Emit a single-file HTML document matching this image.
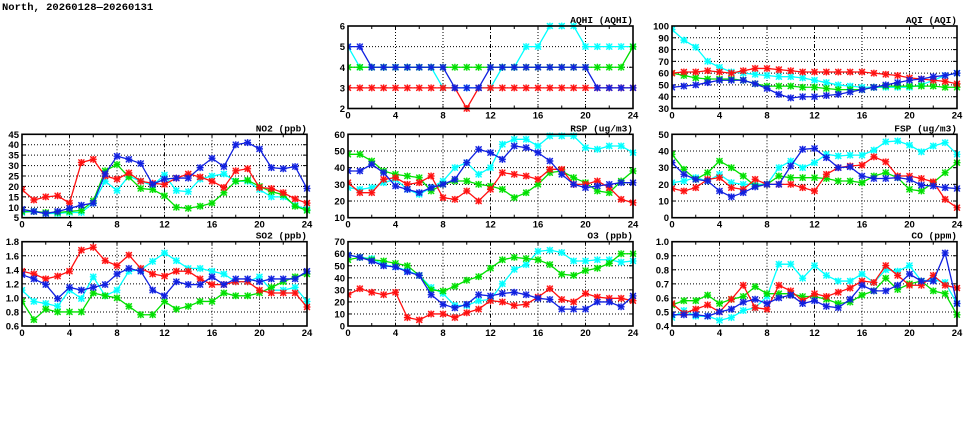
<!DOCTYPE html>
<html><head><meta charset="utf-8"><style>
html,body{margin:0;padding:0;background:#fff;}
svg{display:block;}
</style></head><body>
<svg id="s" width="975" height="447" xmlns="http://www.w3.org/2000/svg"></svg>
<script>
const S=document.getElementById('s');let h='';
h+='<text x="2" y="10" font-family="Liberation Mono,monospace" font-weight="bold" font-size="10.5">North, 20260128\u201420260131</text>';
const cols=[[22,307],[348,633],[672,957]];
const rows=[[26,108.5],[134.3,217.7],[241.7,326]];
const C={c:'#00ffff',g:'#00e000',r:'#ff1010',b:'#1020e0'};
function panel(col,row,title,ymin,ymax,step,dec,data){
 const [x0,x1]=cols[col],[y0,y1]=rows[row];
 const X=t=>x0+(x1-x0)*t/24, Y=v=>y1-(y1-y0)*(v-ymin)/(ymax-ymin);
 // grid
 for(let t=4;t<24;t+=4){const d=t==12?'4,2,1,2':'1,2';h+=`<line x1="${X(t)}" y1="${y0}" x2="${X(t)}" y2="${y1}" stroke="#000" stroke-width="1" stroke-dasharray="${d}"/>`;}
 const n=Math.round((ymax-ymin)/step);
 for(let i=0;i<=n;i++){const v=ymin+i*step,y=Y(v);
  if(i>0&&i<n)h+=`<line x1="${x0}" y1="${y}" x2="${x1}" y2="${y}" stroke="#000" stroke-width="1" stroke-dasharray="1,2"/>`;
  h+=`<line x1="${x0}" y1="${y}" x2="${x0+4}" y2="${y}" stroke="#000"/><line x1="${x1}" y1="${y}" x2="${x1-4}" y2="${y}" stroke="#000"/>`;
  h+=`<text x="${x0-3}" y="${y+3.5}" text-anchor="end" font-family="Liberation Sans,sans-serif" font-weight="bold" font-size="9.5">${v.toFixed(dec)}</text>`;}
 for(let t=0;t<=24;t+=2){h+=`<line x1="${X(t)}" y1="${y1}" x2="${X(t)}" y2="${y1-3}" stroke="#000"/><line x1="${X(t)}" y1="${y0}" x2="${X(t)}" y2="${y0+3}" stroke="#000"/>`;
  if(t%4==0)h+=`<text x="${X(t)}" y="${y1+10}" text-anchor="middle" font-family="Liberation Sans,sans-serif" font-weight="bold" font-size="9.5">${t}</text>`;}
 h+=`<text x="${x1}" y="${y0-3}" text-anchor="end" font-family="Liberation Mono,monospace" font-weight="bold" font-size="9.5">${title}</text>`;
 h+=`<svg x="${x0}" y="${y0-4}" width="${x1-x0+4}" height="${y1-y0+8}" overflow="hidden"><g transform="translate(${-x0},${-(y0-4)})">`;
 for(const k of ['c','g','r','b']){const a=data[k];if(!a)continue;const col=C[k];
  h+=`<polyline fill="none" stroke="${col}" stroke-width="1.3" points="${a.map((v,i)=>X(i)+','+Y(v)).join(' ')}"/>`;
  a.forEach((v,i)=>{const x=X(i),y=Y(v);h+=`<rect x="${x-3}" y="${y-3}" width="6" height="6" fill="${col}" fill-opacity="0.35"/><path d="M${x-3} ${y-3}L${x+3} ${y+3}M${x-3} ${y+3}L${x+3} ${y-3}M${x} ${y-3.5}V${y+3.5}M${x-3.5} ${y}H${x+3.5}" stroke="${col}" stroke-width="1.2"/>`;});}
 h+='</g></svg>';
 h+=`<rect x="${x0}" y="${y0}" width="${x1-x0}" height="${y1-y0}" fill="none" stroke="#000" stroke-width="1.6"/>`;
}
panel(1,0,'AQHI (AQHI)',2,6,1,0,{
 c:[5,4,4,4,4,4,4,4,3,3,3,3,3,4,4,5,5,6,6,6,5,5,5,5,5],
 g:[4,4,4,4,4,4,4,4,4,4,4,4,4,4,4,4,4,4,4,4,4,4,4,4,5],
 r:[3,3,3,3,3,3,3,3,3,3,2,3,3,3,3,3,3,3,3,3,3,3,3,3,3],
 b:[5,5,4,4,4,4,4,4,4,3,3,3,4,4,4,4,4,4,4,4,4,3,3,3,3]});
panel(2,0,'AQI (AQI)',30,100,10,0,{
 c:[97,88,82,70,65,61,60,59,58,57,57,56,54,52,50,49,48,48,48,48,48,50,54,58,60],
 g:[60,58,56,55,55,55,54,51,49,49,49,48,48,47,46,46,46,48,49,49,49,49,49,48,48],
 r:[60,61,61,62,61,60,62,64,64,63,62,61,61,61,61,61,61,60,59,58,56,55,54,53,51],
 b:[48,49,50,52,54,54,54,51,47,42,39,40,40,41,42,44,46,48,50,52,54,55,57,58,60]});
panel(0,1,'NO2 (ppb)',5,45,5,0,{
 c:[7.5,8,7,7,7.5,7.5,12,22.5,18,25,22.5,20.5,25.5,18,17.5,23.5,25,26,22.5,22.5,18.5,15,15,11,9],
 g:[8,8,7.5,7.5,8,8.5,13,27.5,30.5,24.5,19,18.5,15.5,10,9.5,10.5,12,17,22.5,23,20,17.5,16,10.5,8.5],
 r:[18.5,13.5,15,15.5,12,31.5,33,25,23.5,26.5,22.5,21.5,21,24,26,24.5,22.5,19.5,27.5,28.5,19.5,19,17,14,12],
 b:[9,8,7,8,9.5,11,12,26,34.5,33,31,21,23.5,24,24,29,33.5,29.5,40,41,38,29,28.5,29.5,19]});
panel(1,1,'RSP (ug/m3)',10,60,10,0,{
 c:[28,27,28,31,33,27,24,28,32,40,43,36,40,54,57,57,53,59,59,59,52,51,53,53,49],
 g:[48,48,44,38,36,35,34,26,30,32,32,30,29,27,22,25,30,37,38,34,31,26,25,32,38],
 r:[31,25,25,33,34,30,31,35,22,21,26,20,27,37,36,35,33,39,39,30,30,32,28,21,19],
 b:[38,38,42,37,29,27,25,28,30,33,43,51,49,45,53,52,49,44,36,30,28,29,30,31,31]});
panel(2,1,'FSP (ug/m3)',0,50,10,0,{
 c:[21,22,24,22,26,21,20,20,20,30,34,30,33,38,37,37.5,37.5,40.5,45.5,46,43.5,39.5,43,45,38],
 g:[38,29,23,27,34,30,25,19,20,25,24,24,24,23.5,22,22,21,25,27,24,17,16,21,27,33],
 r:[17.5,16,18,23,24,18,17,23,20,20,20,18,16,26,30,31,31.5,36.5,33.5,25,25,23.5,21.5,11,6],
 b:[33,26,23,22,16,12.5,15,18.5,20,20,31,41,41.5,36,30,30.5,25,23.5,23.5,24,23,19.5,19,18,17.5]});
panel(0,2,'SO2 (ppb)',0.6,1.8,0.2,1,{
 c:[1.11,0.95,0.92,0.88,1.11,0.99,1.30,1.03,1.11,1.38,1.40,1.52,1.64,1.53,1.42,1.42,1.38,1.34,1.23,1.23,1.30,1.11,1.11,1.15,0.95],
 g:[0.95,0.69,0.84,0.80,0.80,0.80,1.07,1.03,1.00,0.88,0.76,0.76,0.95,0.84,0.88,0.95,0.95,1.07,1.03,1.03,1.07,1.15,1.23,1.30,1.34],
 r:[1.38,1.34,1.27,1.31,1.38,1.68,1.72,1.53,1.46,1.61,1.42,1.34,1.31,1.38,1.38,1.27,1.19,1.19,1.23,1.23,1.11,1.07,1.07,1.07,0.87],
 b:[1.33,1.27,1.19,0.99,1.15,1.11,1.15,1.19,1.34,1.42,1.38,1.11,1.03,1.23,1.19,1.19,1.30,1.19,1.27,1.27,1.23,1.27,1.27,1.27,1.38]});
panel(1,2,'O3 (ppb)',0,70,10,0,{
 c:[59,57,56,51,49,46,42,32,27,17,17,21,22,35,47,51,62,63,61,54,54,55,55,53,54],
 g:[55,57,55,54,52,50,42,30,29,33,38,41,48,55,57,56,55,51,43,42,46,48,52,60,60],
 r:[26,31,28,26,28,7,5,10,10,7,11,14,21,20,17,18,24,31,22,20,27,24,23,23,21],
 b:[59,57,54,50,49,45,42,26,18,15,18,26,25,27,28,26,23,22,14,14,14,20,20,16,25]});
panel(2,2,'CO (ppm)',0.4,1.0,0.1,1,{
 c:[.46,.51,.47,.47,.44,.46,.51,.53,.61,.84,.84,.74,.83,.76,.72,.72,.77,.71,.80,.79,.83,.72,.73,.71,.56],
 g:[.55,.58,.58,.62,.56,.59,.61,.68,.63,.63,.63,.61,.61,.59,.56,.57,.62,.65,.74,.66,.70,.72,.65,.63,.48],
 r:[.56,.49,.52,.55,.50,.59,.69,.53,.52,.69,.65,.58,.63,.61,.64,.67,.72,.71,.83,.76,.69,.69,.76,.69,.67],
 b:[.48,.48,.48,.47,.50,.52,.57,.59,.56,.60,.62,.56,.58,.54,.53,.59,.69,.65,.65,.69,.77,.72,.72,.92,.56]});
S.innerHTML=h;
</script>
</body></html>
